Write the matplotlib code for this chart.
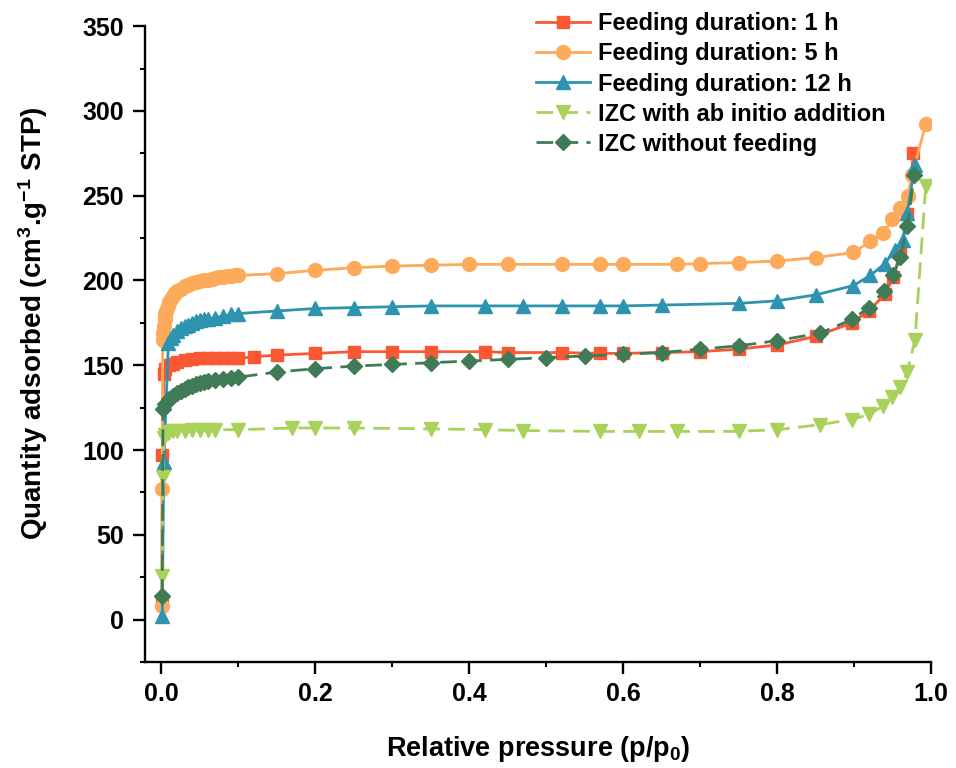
import numpy as np
import matplotlib
matplotlib.use('Agg')
import matplotlib.pyplot as plt
from matplotlib.ticker import MultipleLocator

plt.rcParams['font.family'] = 'Liberation Sans'
plt.rcParams['font.weight'] = 'bold'
plt.rcParams['mathtext.fontset'] = 'custom'
plt.rcParams['mathtext.rm'] = 'Liberation Sans:bold'
plt.rcParams['mathtext.bf'] = 'Liberation Sans:bold'
plt.rcParams['mathtext.default'] = 'bf'

# Feeding duration: 1 h
x_1h = [0.0005, 0.001, 0.003, 0.005, 0.01, 0.015, 0.02, 0.03, 0.04, 0.05, 0.06, 0.07, 0.08, 0.09, 0.1,
        0.12, 0.15, 0.2, 0.25, 0.3, 0.35, 0.42, 0.45, 0.52, 0.57, 0.6, 0.65, 0.7, 0.75, 0.8, 0.85,
        0.897, 0.919, 0.94, 0.951, 0.96, 0.969, 0.977]
y_1h = [10, 97, 145, 148, 150, 151, 152, 153, 153.5, 154, 154, 154, 154, 154, 154,
        155, 156, 157, 158, 158, 158, 158, 157.5, 157.5, 157, 157, 157.5, 158, 159.5, 162, 167,
        175, 182, 192, 202, 217, 239, 275]

# Feeding duration: 5 h
x_5h = [0.0005, 0.001, 0.0015, 0.002, 0.003, 0.004, 0.005, 0.006, 0.008, 0.01, 0.012, 0.015, 0.018,
        0.02, 0.025, 0.03, 0.035, 0.04, 0.045, 0.05, 0.055, 0.06, 0.065, 0.07, 0.075, 0.08, 0.085,
        0.09, 0.095, 0.1, 0.15, 0.2, 0.25, 0.3, 0.35, 0.4, 0.45, 0.52, 0.57, 0.6, 0.67, 0.7, 0.75,
        0.8, 0.85, 0.899, 0.921, 0.938, 0.949, 0.96, 0.97, 0.975, 0.993]
y_5h = [8, 77, 165, 169, 173, 177, 180, 182, 185, 187.5, 189, 191, 192.5,
        193.5, 195, 196.5, 197.5, 198.5, 199, 199.5, 200, 200.5, 201, 201.5, 202, 202, 202.5,
        202.5, 203, 203, 204, 206, 207.5, 208.5, 209, 209.5, 209.5, 209.5, 209.5, 209.5, 209.5, 210, 210.5,
        211.5, 213.5, 216.5, 223, 228, 236, 243, 250, 262, 292]

# Feeding duration: 12 h
x_12h = [0.001, 0.003, 0.009, 0.012, 0.015, 0.02, 0.025, 0.03, 0.035, 0.04, 0.045, 0.05, 0.055,
         0.06, 0.07, 0.08, 0.09, 0.1, 0.15, 0.2, 0.25, 0.3, 0.35, 0.42, 0.47, 0.52, 0.57, 0.6,
         0.65, 0.75, 0.8, 0.85, 0.899, 0.921, 0.94, 0.953, 0.964, 0.969, 0.979]
y_12h = [2, 93, 163, 166, 168, 170, 172, 173, 174, 175, 176, 176.5, 177,
         177.5, 178, 179, 180, 180.5, 182, 183.5, 184, 184.5, 185, 185, 185, 185, 185, 185,
         185.5, 186.5, 188, 191.5, 197, 203, 210, 218, 224, 240, 268]

# IZC with ab initio addition
x_ab = [0.001, 0.002, 0.003, 0.005, 0.008, 0.01, 0.015, 0.02, 0.03, 0.04, 0.05, 0.06, 0.07, 0.1,
        0.17, 0.2, 0.25, 0.35, 0.42, 0.47, 0.57, 0.62, 0.67, 0.75, 0.8, 0.856, 0.897, 0.919,
        0.938, 0.949, 0.96, 0.969, 0.979, 0.993]
y_ab = [26, 84, 107, 109, 110, 110.5, 111, 111, 111.5, 112, 112, 112, 112, 112,
        113, 113, 113, 112.5, 112, 111.5, 111, 111, 111, 111, 112, 115, 118, 121,
        126, 131, 137, 146, 165, 256]

# IZC without feeding
x_nf = [0.001, 0.002, 0.005, 0.01, 0.015, 0.02, 0.025, 0.03, 0.035, 0.04, 0.045, 0.05, 0.055, 0.06,
        0.07, 0.08, 0.09, 0.1, 0.15, 0.2, 0.25, 0.3, 0.35, 0.4, 0.45, 0.5, 0.55, 0.6, 0.65, 0.7,
        0.75, 0.8, 0.856, 0.897, 0.919, 0.939, 0.951, 0.96, 0.969, 0.978]
y_nf = [14, 124, 127, 130, 132, 133.5, 135, 136, 137, 138, 139, 139.5, 140, 140.5,
        141.5, 142, 142.5, 143, 146, 148, 149.5, 150.5, 151.5, 152.5, 153.5, 154.5, 155.5, 156.5, 157.5, 159.5,
        161.5, 164.5, 169, 177, 184, 194, 203, 214, 232, 262]

fig = plt.figure(figsize=(9.56, 7.68), dpi=100)
ax = fig.add_axes([0.152, 0.138, 0.822, 0.828])

ax.plot(x_1h, y_1h, '-s', color='#FA5733', lw=2, ms=9, label='Feeding duration: 1 h')
ax.plot(x_5h, y_5h, '-o', color='#FDAA5A', lw=2, ms=10, label='Feeding duration: 5 h')
ax.plot(x_12h, y_12h, '-^', color='#2E93AE', lw=2, ms=10, label='Feeding duration: 12 h')
ax.plot(x_ab, y_ab, '--v', color='#A8D25A', lw=2, ms=10, dashes=(6, 3), label='IZC with ab initio addition')
ax.plot(x_nf, y_nf, '--D', color='#407B58', lw=2, ms=8, dashes=(6, 3), label='IZC without feeding')

ax.set_xlim(-0.021, 1.0)
ax.set_ylim(-25, 350)
ax.xaxis.set_minor_locator(MultipleLocator(0.1))
ax.yaxis.set_minor_locator(MultipleLocator(25))
ax.set_xticks(np.arange(0, 1.01, 0.2))
ax.set_xticklabels(['0.0', '0.2', '0.4', '0.6', '0.8', '1.0'])
ax.set_yticks(np.arange(0, 351, 50))

for s in ['top', 'right']:
    ax.spines[s].set_visible(False)
for s in ['left', 'bottom']:
    ax.spines[s].set_linewidth(1.7)
ax.tick_params(which='major', direction='out', length=8.5, width=1.7, labelsize=18)
ax.tick_params(axis='y', which='major', pad=7)
ax.tick_params(axis='x', which='major', pad=6)
ax.tick_params(which='minor', direction='out', length=3.8, width=1.5)

ax.set_xlabel('Relative pressure (p/p$_0$)', fontsize=19.5, fontweight='bold', labelpad=20)
ax.set_ylabel('Quantity adsorbed (cm$^3$.g$^{-1}$ STP)', fontsize=20, fontweight='bold')
ax.yaxis.set_label_coords(-0.121, 0.533)

ax.legend(loc='upper left', bbox_to_anchor=(0.47, 1.055), frameon=False, fontsize=17,
          handlelength=2.3, labelspacing=0.3, handletextpad=0.35)

plt.savefig('out.png', dpi=100)
